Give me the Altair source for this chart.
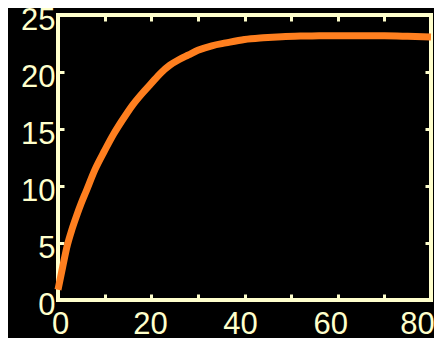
import altair as alt
import pandas as pd

# Data
t_vals = [0, 1, 2, 3, 4, 5, 6, 8, 10, 12, 14, 16, 18, 20, 22, 24, 26, 28, 30,
          33, 36, 40, 44, 48, 52, 56, 60, 65, 70, 75, 80]
v_vals = [0.9, 2.9, 4.8, 6.2, 7.4, 8.5, 9.5, 11.5, 13.1, 14.6, 15.9, 17.1, 18.1,
          19.0, 19.9, 20.6, 21.1, 21.5, 21.9, 22.3, 22.55, 22.85, 23.0, 23.1,
          23.15, 23.17, 23.18, 23.18, 23.17, 23.13, 23.08]

x_ticks = [0, 10, 20, 30, 40, 50, 60, 70, 80]
y_ticks = [0, 5, 10, 15, 20, 25]

CREAM = "#FFFFCC"
ORANGE = "#FF7F1F"

df = pd.DataFrame({"t": t_vals, "v": v_vals})

xs = alt.Scale(domain=[0, 80], nice=False, zero=False)
ys = alt.Scale(domain=[0, 25], nice=False, zero=False)

common = dict(domain=False, grid=False, title=None, tickColor=CREAM, tickWidth=3,
              tickSize=6, offset=-6, labelColor=CREAM, labelFont="Liberation Sans",
              labelFontSize=31)

line = alt.Chart(df).mark_line(color=ORANGE, strokeWidth=7, interpolate="monotone").encode(
    x=alt.X("t:Q", scale=xs, axis=alt.Axis(
        orient="bottom", values=x_ticks, labelPadding=9,
        labelExpr="datum.value % 20 == 0 ? datum.label : ''",
        labelOffset={"expr": "datum.value == 80 ? -14 : 2 - datum.value * 0.16"},
        labelFlush=False, labelOverlap=False, **common)),
    y=alt.Y("v:Q", scale=ys, axis=alt.Axis(
        orient="left", values=y_ticks, labelPadding=3, labelOffset=5.8,
        labelBaseline="middle", labelFlush=False, labelOverlap=False, **common)),
)

frame = alt.Chart(df).mark_point(opacity=0).encode(
    x=alt.X("t:Q", scale=xs, axis=alt.Axis(orient="top", values=x_ticks,
                                           labels=False, **common)),
    y=alt.Y("v:Q", scale=ys, axis=alt.Axis(orient="right", values=y_ticks,
                                           labels=False, **common)),
)

chart = alt.layer(line, frame).resolve_axis(
    x="independent", y="independent"
).properties(
    width=373, height=285,
    autosize=alt.AutoSizeParams(type="none"),
    padding={"left": 50, "top": 7, "right": 3, "bottom": 38},
    background="black",
).configure_view(stroke=CREAM, strokeWidth=4, fill="black")

chart.save("out.html", embed_options={"renderer": "svg", "actions": False})
